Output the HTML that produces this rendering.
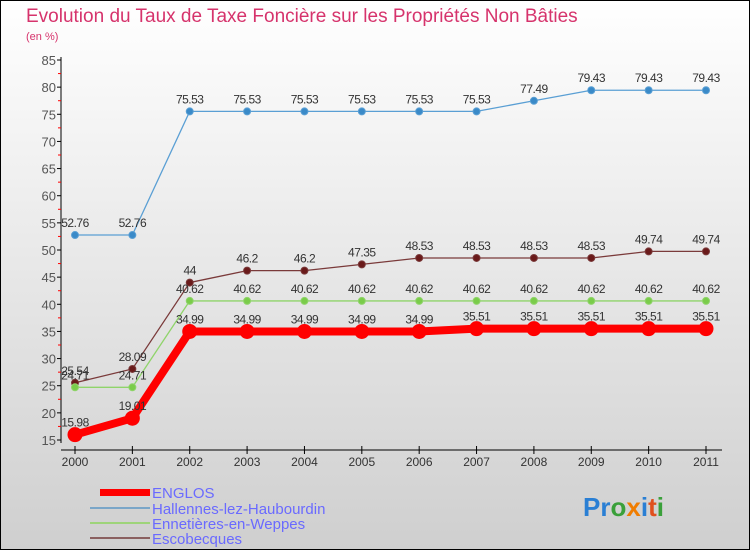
<!DOCTYPE html>
<html><head><meta charset="utf-8"><style>
body{margin:0;width:750px;height:550px;overflow:hidden;font-family:"Liberation Sans",sans-serif}
</style></head><body>
<svg width="750" height="550" xmlns="http://www.w3.org/2000/svg">
<defs><linearGradient id="bg" x1="0" y1="0" x2="0" y2="1"><stop offset="0" stop-color="#ffffff"/><stop offset="1" stop-color="#cfcfcf"/></linearGradient></defs>
<rect x="0.5" y="0.5" width="749" height="549" fill="url(#bg)" stroke="#000"/>
<text x="26" y="22" font-size="19" fill="#d6336c">Evolution du Taux de Taxe Foncière sur les Propriétés Non Bâties</text>
<text x="26" y="40" font-size="11" fill="#d6336c">(en %)</text>
<g id="axes"></g><g id="series"></g>
<g>
<rect x="100" y="489" width="50" height="7" fill="#f00"/>
<text x="152" y="498" font-size="15" fill="#6a6aff">ENGLOS</text>
<line x1="90" y1="508" x2="150" y2="508" stroke="#7aa6c8" stroke-width="2"/>
<text x="152" y="514" font-size="15" fill="#6a6aff">Hallennes-lez-Haubourdin</text>
<line x1="90" y1="523" x2="150" y2="523" stroke="#9ed47a" stroke-width="2"/>
<text x="152" y="529" font-size="15" fill="#6a6aff">Ennetières-en-Weppes</text>
<line x1="90" y1="538" x2="150" y2="538" stroke="#8a6060" stroke-width="2"/>
<text x="152" y="544" font-size="15" fill="#6a6aff">Escobecques</text>
</g>
<text x="583" y="516" font-size="26" font-weight="bold"><tspan fill="#2a7fd4">Pr</tspan><tspan fill="#3aa03a">o</tspan><tspan fill="#f07d00">x</tspan><tspan fill="#2a7fd4">i</tspan><tspan fill="#e0501e">t</tspan><tspan fill="#3aa03a">i</tspan></text>
</svg>
<script>
const years=[2000,2001,2002,2003,2004,2005,2006,2007,2008,2009,2010,2011];
const englos=[15.98,19.01,34.99,34.99,34.99,34.99,34.99,35.51,35.51,35.51,35.51,35.51];
const hallennes=[52.76,52.76,75.53,75.53,75.53,75.53,75.53,75.53,77.49,79.43,79.43,79.43];
const ennetieres=[24.71,24.71,40.62,40.62,40.62,40.62,40.62,40.62,40.62,40.62,40.62,40.62];
const escobecques=[25.54,28.09,44,46.2,46.2,47.35,48.53,48.53,48.53,48.53,49.74,49.74];
const yTicks=[15,20,25,30,35,40,45,50,55,60,65,70,75,80,85];
const NS="http://www.w3.org/2000/svg";
const X=i=>75+i*(706-75)/11;
const Y=v=>440-(v-15)*380/70;
function mk(t,a,p){const e=document.createElementNS(NS,t);for(const k in a)e.setAttribute(k,a[k]);p.appendChild(e);return e;}
const ax=document.getElementById('axes');
mk('line',{x1:61,y1:57,x2:61,y2:443,stroke:'#000'},ax);
mk('line',{x1:61,y1:450,x2:722,y2:450,stroke:'#000'},ax);
yTicks.forEach(v=>{mk('line',{x1:57,y1:Y(v),x2:61,y2:Y(v),stroke:'#000'},ax);
 if(v<85)mk('line',{x1:58,y1:Y(v+2.5),x2:61,y2:Y(v+2.5),stroke:'#f00'},ax);
 const t=mk('text',{x:56,y:Y(v)+5,'font-size':13,fill:'#555','text-anchor':'end'},ax);t.textContent=v;
 });
years.forEach((y,i)=>{mk('line',{x1:X(i),y1:446,x2:X(i),y2:454,stroke:'#000'},ax);
 const t=mk('text',{x:X(i),y:466,'font-size':12,fill:'#333','text-anchor':'middle'},ax);t.textContent=y;
 });
const sg=document.getElementById('series');
function draw(name,vals,col,fill,w,r,fmt){
 const g=mk('g',{},sg);
 
 
 mk('polyline',{points:vals.map((v,i)=>X(i)+','+Y(v)).join(' '),fill:'none',stroke:col,'stroke-width':w,'stroke-linejoin':'round'},g);
 vals.forEach((v,i)=>{const c=mk('circle',{cx:X(i),cy:Y(v),r:r,fill:fill,stroke:col,'stroke-width':1},g);
  
  const t=mk('text',{x:X(i),y:Y(v)-8,'font-size':12,fill:'#333','text-anchor':'middle','letter-spacing':'-0.5'},g);t.textContent=String(v);
  });
}
draw('hallennes',hallennes,'#5a9fd4','#3a8ac8',1.3,3.5);
draw('escobecques',escobecques,'#7a3a3a','#6a1a1a',1.3,3.5);
draw('ennetieres',ennetieres,'#8fd46a','#7acc4a',1.3,3.5);
draw('englos',englos,'#f00','#f00',8,7);
</script>
</body></html>
